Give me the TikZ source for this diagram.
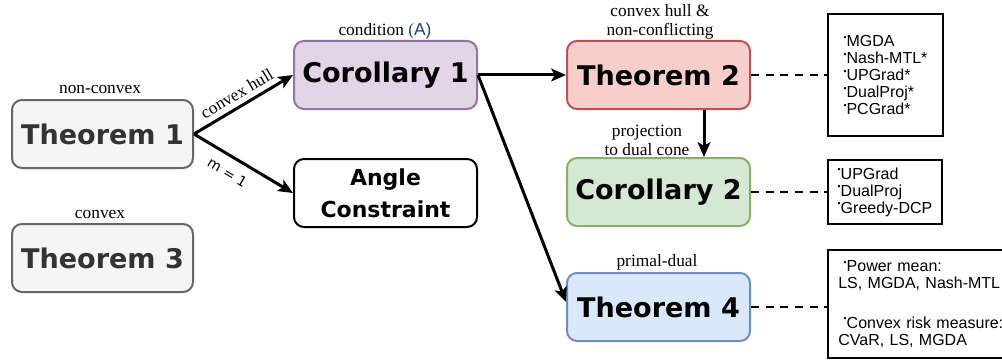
\documentclass[tikz,border=0pt]{standalone}
\usepackage{fontspec}
\setmainfont{Liberation Serif}
\newfontfamily\boxfont{DejaVu Sans}
\newfontfamily\listfont{Liberation Sans}
\usetikzlibrary{arrows.meta,calc}
\definecolor{gfill}{HTML}{F5F5F5}
\definecolor{gdraw}{HTML}{666666}
\definecolor{gtext}{HTML}{333333}
\definecolor{pfill}{HTML}{E1D5E7}
\definecolor{pdraw}{HTML}{9673A6}
\definecolor{rfill}{HTML}{F8CECC}
\definecolor{rdraw}{HTML}{B85450}
\definecolor{grfill}{HTML}{D5E8D4}
\definecolor{grdraw}{HTML}{82B366}
\definecolor{bfill}{HTML}{DAE8FC}
\definecolor{bdraw}{HTML}{6C8EBF}
\definecolor{linkblue}{HTML}{1F3F73}
\newcommand{\bul}{\raisebox{0.4em}{\fontsize{6.5}{6.5}\selectfont •}}
\begin{document}
\begin{tikzpicture}[x=0.75pt,y=-0.75pt,
  card/.style={rounded corners=7.5pt, line width=1.5pt, minimum width=137.25pt,
    minimum height=51pt, inner sep=0pt, align=center,
    font=\boxfont\bfseries\fontsize{20.3}{24}\selectfont},
  grayc/.style={card, fill=gfill, draw=gdraw, text=gtext, minimum width=135.75pt},
  purc/.style={card, fill=pfill, draw=pdraw},
  redc/.style={card, fill=rfill, draw=rdraw},
  grnc/.style={card, fill=grfill, draw=grdraw},
  bluc/.style={card, fill=bfill, draw=bdraw},
  whitec/.style={card, fill=white, draw=black, font=\boxfont\bfseries\fontsize{16.5}{24}\selectfont},
  listbox/.style={draw=black, line width=1.5pt, inner sep=0pt, align=left,
    font=\listfont\fontsize{12}{12.75}\selectfont},
  lbl/.style={font=\fontsize{13}{14.25}\selectfont, align=center, inner sep=0pt},
  arr/.style={-{Stealth[length=11pt,width=9.5pt,inset=2.5pt]}, line width=2.25pt},
  dashline/.style={line width=1.3pt, dash pattern=on 6pt off 5pt}
]
\useasboundingbox (0,0) rectangle (1002,360);

% main cards
\node[grayc] (t1) at (102.5,134) {Theorem 1};
\node[grayc] (t3) at (102.5,258) {Theorem 3};
\node[purc]  (c1) at (385.5,75)  {Corollary 1};
\node[whitec] (ac) at (385.5,193) {Angle\\Constraint};
\node[redc]  (t2) at (658.5,75)  {Theorem 2};
\node[grnc]  (c2) at (658.5,192) {Corollary 2};
\node[bluc]  (t4) at (658.5,307) {Theorem 4};

% labels
\node[lbl] (lnc) at (100,90) {non-convex};
\node[lbl] (lcv) at (100,214) {convex};
\node[lbl] (lca) at (385,31) {condition {\color{linkblue}(\listfont A)}};
\node[lbl] (lch) at (660,22) {convex hull \&\\non-conflicting};
\node[lbl] (lpj) at (647,140) {projection\\to dual cone};
\node[lbl] (lpd) at (657,262) {primal-dual};

% list boxes
\node[listbox, minimum width=86.25pt, minimum height=91.5pt] (b1) at (885.5,75)
  {\bul MGDA\\\bul Nash-MTL*\\\bul UPGrad*\\\bul DualProj*\\\bul PCGrad*};
\node[listbox, minimum width=85.5pt, minimum height=48pt] (b2) at (885,192)
  {\bul UPGrad\\\bul DualProj\\\bul Greedy-DCP};
\node[listbox, text width=130pt, inner xsep=7.5pt, minimum height=81pt] (b3) at (925,304)
  {\hspace*{4pt}\bul Power mean:\\LS, MGDA, Nash-MTL\\[17pt]\hspace*{4pt}\bul Convex risk measure:\\CVaR, LS, MGDA};

% arrows
\draw[arr] (t1.east) -- node[pos=0.5, sloped, above, inner sep=4pt, font=\fontsize{13}{14}\selectfont] (lhull) {convex hull} (c1.west);
\draw[arr] (t1.east) -- node[pos=0.42, sloped, below, inner sep=7pt, font=\boxfont\fontsize{10.5}{12}\selectfont] (lm1) {m = 1} (ac.west);
\draw[arr] (c1.east) -- (t2.west);
\draw[arr] (c1.east) -- ($(t4.west)+(0,-5)$);
\draw[arr] ($(t2.south)+(45.5,0)$) -- ($(c2.north)+(45.5,0)$);

% dashed
\draw[dashline] (t2.east) -- (b1.west);
\draw[dashline] (c2.east) -- (b2.west);
\draw[dashline] (t4.east) -- (t4.east -| b3.west);
\end{tikzpicture}
\end{document}
